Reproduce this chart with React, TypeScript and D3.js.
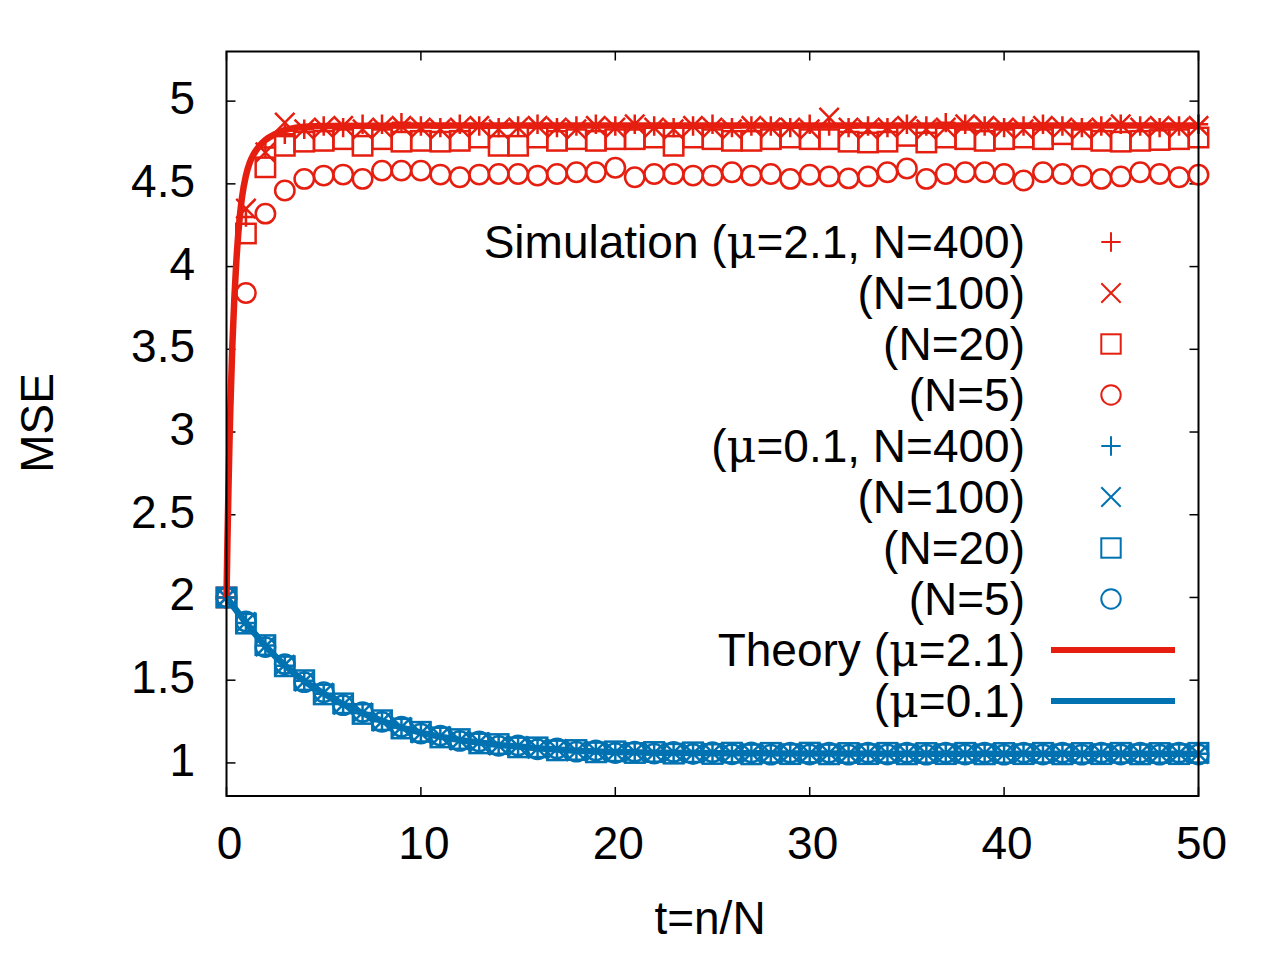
import * as d3 from 'd3'

// t = n/N at which the simulations were sampled
const tSteps = [
  0, 1, 2, 3, 4, 5, 6, 7, 8, 9, 10, 11, 12, 13, 14, 15, 16, 17, 18, 19, 20, 21, 22, 23, 24, 25,
  26, 27, 28, 29, 30, 31, 32, 33, 34, 35, 36, 37, 38, 39, 40, 41, 42, 43, 44, 45, 46, 47, 48, 49, 50,
]

// mu = 2.1
const simHigh400 = [
  2.0, 4.3, 4.72, 4.8, 4.83, 4.85, 4.84, 4.86, 4.86, 4.87, 4.85, 4.84, 4.86, 4.85, 4.84, 4.85, 4.86,
  4.84, 4.85, 4.86, 4.85, 4.86, 4.85, 4.84, 4.85, 4.86, 4.84, 4.85, 4.85, 4.84, 4.86, 4.85, 4.84,
  4.85, 4.84, 4.86, 4.85, 4.87, 4.86, 4.85, 4.84, 4.85, 4.86, 4.85, 4.84, 4.85, 4.86, 4.85, 4.84,
  4.85, 4.86,
]
const simHigh100 = [
  2.0, 4.35, 4.69, 4.87, 4.83, 4.84, 4.85, 4.83, 4.84, 4.85, 4.84, 4.83, 4.84, 4.85, 4.83, 4.84,
  4.85, 4.84, 4.83, 4.85, 4.84, 4.86, 4.84, 4.83, 4.85, 4.84, 4.83, 4.85, 4.84, 4.84, 4.83, 4.9,
  4.84, 4.83, 4.84, 4.85, 4.83, 4.84, 4.86, 4.85, 4.84, 4.83, 4.85, 4.84, 4.83, 4.84, 4.86, 4.84,
  4.85, 4.84, 4.85,
]
const simHigh20 = [
  2.0, 4.2, 4.6, 4.73, 4.755, 4.76, 4.77, 4.73, 4.77, 4.755, 4.76, 4.755, 4.76, 4.78, 4.73, 4.73,
  4.78, 4.76, 4.77, 4.76, 4.77, 4.77, 4.78, 4.73, 4.78, 4.77, 4.76, 4.76, 4.77, 4.78, 4.77, 4.77,
  4.755, 4.75, 4.755, 4.79, 4.75, 4.78, 4.77, 4.76, 4.77, 4.78, 4.77, 4.8, 4.77, 4.76, 4.755, 4.76,
  4.765, 4.77, 4.78,
]
const simHigh5 = [
  2.0, 3.84, 4.32, 4.46, 4.53, 4.55, 4.556, 4.53, 4.58, 4.58, 4.58, 4.556, 4.54, 4.556, 4.56, 4.56,
  4.55, 4.56, 4.57, 4.57, 4.597, 4.54, 4.56, 4.56, 4.55, 4.55, 4.57, 4.55, 4.56, 4.53, 4.555, 4.545,
  4.533, 4.545, 4.57, 4.593, 4.53, 4.56, 4.57, 4.57, 4.56, 4.52, 4.57, 4.56, 4.55, 4.53, 4.545, 4.57,
  4.56, 4.54, 4.555,
]

// mu = 0.1
const simLow400 = [
  2.0, 1.846, 1.709, 1.588, 1.497, 1.418, 1.356, 1.302, 1.252, 1.214, 1.182, 1.16, 1.138, 1.124,
  1.108, 1.1, 1.088, 1.082, 1.073, 1.07, 1.065, 1.065, 1.061, 1.062, 1.059, 1.06, 1.058, 1.057,
  1.058, 1.056, 1.058, 1.057, 1.056, 1.058, 1.057, 1.056, 1.057, 1.055, 1.056, 1.057, 1.055, 1.056,
  1.057, 1.055, 1.056, 1.057, 1.055, 1.056, 1.057, 1.055, 1.056,
]
const simLow100 = [
  2.0, 1.851, 1.704, 1.593, 1.492, 1.423, 1.352, 1.304, 1.251, 1.216, 1.18, 1.162, 1.136, 1.126,
  1.106, 1.102, 1.086, 1.084, 1.071, 1.072, 1.063, 1.067, 1.059, 1.064, 1.057, 1.062, 1.056, 1.059,
  1.055, 1.059, 1.056, 1.06, 1.054, 1.059, 1.055, 1.058, 1.054, 1.058, 1.055, 1.059, 1.053, 1.058,
  1.055, 1.058, 1.054, 1.059, 1.054, 1.058, 1.055, 1.058, 1.054,
]
const simLow20 = [
  2.0, 1.842, 1.712, 1.584, 1.5, 1.414, 1.36, 1.296, 1.258, 1.208, 1.188, 1.154, 1.144, 1.118, 1.114,
  1.094, 1.094, 1.076, 1.078, 1.064, 1.07, 1.06, 1.066, 1.056, 1.064, 1.054, 1.062, 1.052, 1.061,
  1.053, 1.062, 1.052, 1.06, 1.053, 1.061, 1.052, 1.06, 1.053, 1.061, 1.052, 1.06, 1.053, 1.061,
  1.052, 1.06, 1.053, 1.061, 1.052, 1.06, 1.053, 1.061,
]
const simLow5 = [
  2.0, 1.855, 1.7, 1.597, 1.488, 1.427, 1.349, 1.307, 1.248, 1.219, 1.177, 1.165, 1.133, 1.129, 1.103,
  1.105, 1.083, 1.087, 1.068, 1.075, 1.06, 1.068, 1.056, 1.066, 1.054, 1.064, 1.052, 1.063, 1.05,
  1.062, 1.051, 1.061, 1.05, 1.062, 1.051, 1.061, 1.05, 1.062, 1.051, 1.061, 1.05, 1.062, 1.051,
  1.061, 1.05, 1.062, 1.051, 1.061, 1.05, 1.062, 1.051,
]

// theory curves
const theoryHighT = [0, 0.05, 0.1, 0.15, 0.2, 0.3, 0.4, 0.5, 0.6, 0.7, 0.8, 1, 1.2, 1.4, 1.7, 2, 2.5, 3, 3.5, 4, 5, 10, 20, 50]
const theoryHigh = [
  2.0, 2.35, 2.65, 2.92, 3.15, 3.52, 3.8, 4.02, 4.19, 4.32, 4.42, 4.55, 4.63, 4.68, 4.73, 4.765, 4.8,
  4.825, 4.838, 4.845, 4.85, 4.852, 4.853, 4.853,
]
const theoryLowT = [0, 1, 2, 3, 4, 5, 6, 7, 8, 9, 10, 11, 12, 13, 14, 15, 16, 17, 18, 19, 20, 22, 25, 30, 35, 40, 50]
const theoryLow = [
  2.0, 1.848, 1.707, 1.59, 1.495, 1.42, 1.355, 1.3, 1.254, 1.213, 1.183, 1.159, 1.139, 1.123, 1.109,
  1.099, 1.089, 1.081, 1.074, 1.069, 1.066, 1.062, 1.059, 1.057, 1.056, 1.056, 1.056,
]

const xTicks = [0, 10, 20, 30, 40, 50]
const yTicks = [1, 1.5, 2, 2.5, 3, 3.5, 4, 4.5, 5]

const RED = '#e51e10'
const BLUE = '#0072b2'
const FONT = '"Liberation Sans", Arial, sans-serif'

type Shape = 'plus' | 'cross' | 'square' | 'circle'

const series: { values: number[]; color: string; shape: Shape }[] = [
  { values: simHigh400, color: RED, shape: 'plus' },
  { values: simHigh100, color: RED, shape: 'cross' },
  { values: simHigh20, color: RED, shape: 'square' },
  { values: simHigh5, color: RED, shape: 'circle' },
  { values: simLow400, color: BLUE, shape: 'plus' },
  { values: simLow100, color: BLUE, shape: 'cross' },
  { values: simLow20, color: BLUE, shape: 'square' },
  { values: simLow5, color: BLUE, shape: 'circle' },
]

const legendLabels: [string, string][] = [
  ['Simulation (', 'μ=2.1, N=400)'],
  ['', '(N=100)'],
  ['', '(N=20)'],
  ['', '(N=5)'],
  ['(', 'μ=0.1, N=400)'],
  ['', '(N=100)'],
  ['', '(N=20)'],
  ['', '(N=5)'],
  ['Theory (', 'μ=2.1)'],
  ['(', 'μ=0.1)'],
]

const width = 1280
const height = 960
const margin = { top: 51.5, right: 81.5, bottom: 164, left: 226.5 }
const M = 9.7 // half marker size

function Marker({ x, y, shape, color, sw = 2.5 }: { x: number; y: number; shape: Shape; color: string; sw?: number }) {
  const p = { stroke: color, strokeWidth: sw, fill: 'none' }
  if (shape === 'plus') return <path d={`M${x - M},${y}H${x + M}M${x},${y - M}V${y + M}`} {...p} />
  if (shape === 'cross') return <path d={`M${x - M},${y - M}L${x + M},${y + M}M${x - M},${y + M}L${x + M},${y - M}`} {...p} />
  if (shape === 'square') return <rect x={x - M} y={y - M} width={2 * M} height={2 * M} {...p} />
  return <circle cx={x} cy={y} r={M} {...p} />
}

function Label({ parts, x, y }: { parts: [string, string]; x: number; y: number }) {
  // the mu is set in a serif face, like gnuplot's symbol font
  const [pre, rest] = parts
  const hasMu = rest.startsWith('μ')
  return (
    <text x={x} y={y} textAnchor="end" fontFamily={FONT} fontSize={46} fill="#000">
      {pre}
      {hasMu ? (
        <>
          <tspan fontFamily='"DejaVu Serif", serif'>μ</tspan>
          {rest.slice(1)}
        </>
      ) : (
        rest
      )}
    </text>
  )
}

export default function App() {
  const x = d3.scaleLinear().domain([0, 50]).range([margin.left, width - margin.right])
  const y = d3.scaleLinear().domain([0.8, 5.3]).range([height - margin.bottom, margin.top])

  const [x0, x1] = x.range()
  const [y0, y1] = y.range()

  const line = d3
    .line<[number, number]>()
    .x(d => x(d[0]))
    .y(d => y(d[1]))
    .curve(d3.curveMonotoneX)

  const highPts = theoryHighT.map((t, i) => [t, theoryHigh[i]] as [number, number])
  const lowPts = theoryLowT.map((t, i) => [t, theoryLow[i]] as [number, number])

  const legendX = 1025
  const legendMarkX = 1111
  const rowY = (i: number) => 242 + i * 51

  return (
    <svg width={width} height={height} style={{ position: 'absolute', left: 0, top: 0, background: '#fff' }}>
      <rect width={width} height={height} fill="#fff" />

      {/* ticks, mirrored on all sides */}
      {yTicks.map(v => (
        <g key={'y' + v}>
          <line x1={x0} x2={x0 + 9} y1={y(v)} y2={y(v)} stroke="#000" strokeWidth={1.5} />
          <line x1={x1} x2={x1 - 9} y1={y(v)} y2={y(v)} stroke="#000" strokeWidth={1.5} />
          <text x={195} y={y(v) + 13} textAnchor="end" fontFamily={FONT} fontSize={46}>
            {v}
          </text>
        </g>
      ))}
      {xTicks.map(v => (
        <g key={'x' + v}>
          <line x1={x(v)} x2={x(v)} y1={y0} y2={y0 - 9} stroke="#000" strokeWidth={1.5} />
          <line x1={x(v)} x2={x(v)} y1={y1} y2={y1 + 9} stroke="#000" strokeWidth={1.5} />
          <text x={x(v) + 3} y={859} textAnchor="middle" fontFamily={FONT} fontSize={46}>
            {v}
          </text>
        </g>
      ))}

      {/* simulation markers */}
      {series.map((s, si) => (
        <g key={'s' + si}>
          {s.values.map((v, i) => (
            <Marker key={i} x={x(tSteps[i])} y={y(v)} shape={s.shape} color={s.color} />
          ))}
        </g>
      ))}

      {/* theory */}
      <path d={line(highPts) ?? ''} fill="none" stroke={RED} strokeWidth={6.5} />
      <path d={line(lowPts) ?? ''} fill="none" stroke={BLUE} strokeWidth={6.5} />

      {/* legend */}
      {legendLabels.map((lab, i) => (
        <Label key={'l' + i} parts={lab} x={legendX} y={rowY(i) + 16} />
      ))}
      {series.map((s, i) => (
        <Marker key={'lm' + i} x={legendMarkX} y={rowY(i)} shape={s.shape} color={s.color} sw={2} />
      ))}
      <line x1={1051} x2={1175} y1={rowY(8)} y2={rowY(8)} stroke={RED} strokeWidth={6} />
      <line x1={1051} x2={1175} y1={rowY(9)} y2={rowY(9)} stroke={BLUE} strokeWidth={6} />

      {/* frame */}
      <rect x={x0} y={y1} width={x1 - x0} height={y0 - y1} fill="none" stroke="#000" strokeWidth={2} />

      {/* axis titles */}
      <text transform={`translate(53,423) rotate(-90)`} textAnchor="middle" fontFamily={FONT} fontSize={46}>
        MSE
      </text>
      <text x={710} y={934} textAnchor="middle" fontFamily={FONT} fontSize={46}>
        t=n/N
      </text>
    </svg>
  )
}
